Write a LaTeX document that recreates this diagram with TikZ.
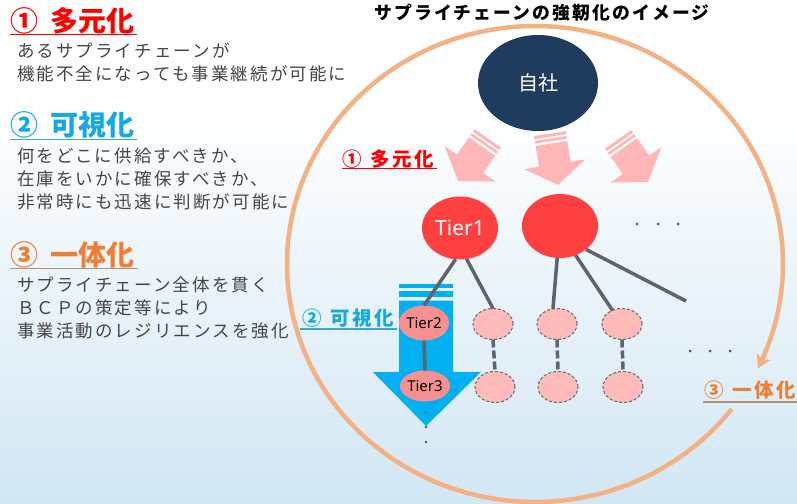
\documentclass[tikz,border=0pt]{standalone}
\usepackage{fontspec}
\setmainfont{Noto Sans CJK JP}
\newfontfamily\jp[LetterSpace=12]{Noto Sans CJK JP}
\newfontfamily\jph{Noto Sans CJK JP}
\newfontfamily\lat{Noto Sans}
\usetikzlibrary{shapes.geometric,arrows.meta}
\definecolor{bgblue}{HTML}{D2E7F4}
\definecolor{ringc}{HTML}{F4B183}
\definecolor{navy}{HTML}{1F3C5E}
\definecolor{tred}{HTML}{FF4040}
\definecolor{tsalmon}{HTML}{F79191}
\definecolor{tpink}{HTML}{FFBABA}
\definecolor{apink}{HTML}{FFB6B6}
\definecolor{ablue}{HTML}{00B0F0}
\definecolor{lgray}{HTML}{5F6370}
\definecolor{dgray}{HTML}{6F6F6F}
\definecolor{dotgray}{HTML}{505560}
\definecolor{txtgray}{HTML}{454545}
\definecolor{hred}{HTML}{FF0000}
\definecolor{hblue}{HTML}{14A8E4}
\definecolor{horange}{HTML}{EF7D32}
\definecolor{ulblue}{HTML}{3AA6DA}
\definecolor{ulbrown}{HTML}{B09078}
\begin{document}
\begin{tikzpicture}[x=1pt,y=-1pt,
  every node/.style={inner sep=0pt, outer sep=0pt},
  body/.style={anchor=west, text=txtgray, font=\jp\fontsize{17.5}{20}\selectfont},
  head/.style={anchor=west, font=\jph\bfseries\fontsize{28}{30}\selectfont},
  clabel/.style={anchor=west, font=\jp\bfseries\fontsize{19.5}{21}\selectfont},
  link/.style={draw=lgray, line width=3.5pt},
  dlink/.style={draw=lgray, line width=3.5pt, dash pattern=on 8pt off 3pt},
  ghost/.style={ellipse, fill=tpink, draw=dgray, line width=1.1pt, dash pattern=on 3pt off 2pt, minimum width=40pt, minimum height=31pt},
  pinkarrow/.pic={
    \fill[apink] (-16,-42) -- (16,-42) -- (16,-21) -- (31,-21) -- (0,0) -- (-31,-21) -- (-16,-21) -- cycle;
    \fill[apink] (-16,-44.5) rectangle (16,-47);
    \fill[apink] (-16,-49) rectangle (16,-52);
  }
]
\useasboundingbox (0,0) rectangle (797,503);
\fill[white] (0,0) rectangle (797,503);
\shade[top color=white, bottom color=bgblue] (0,105) rectangle (797,503);

% ring with arrow
\draw[ringc, line width=4.5pt, -{Stealth[length=13pt, width=15pt, inset=3pt]}]
  plot[domain=37.5:386, samples=300] ({535+248*cos(\x)},{264+238*sin(\x)});

% title
\node[font=\jp\bfseries\fontsize{17.8}{20}\selectfont] (title) at (542,13) {サプライチェーンの強靭化のイメージ};

% left text panel
\node[head, text=hred] (h1) at (10,21) {①\hspace{13pt}多元化};
\draw[hred, line width=1.8pt] (10,34.5) -- (137,34.5);
\node[body] (b11) at (17,51) {あるサプライチェーンが};
\node[body] (b12) at (17,74) {機能不全になっても事業継続が可能に};

\node[head, text=hblue] (h2) at (10,125) {②\hspace{13pt}可視化};
\draw[ulblue, line width=1.8pt] (10,139.5) -- (137,139.5);
\node[body] (b21) at (17,156) {何をどこに供給すべきか、};
\node[body] (b22) at (17,179) {在庫をいかに確保すべきか、};
\node[body] (b23) at (17,202) {非常時にも迅速に判断が可能に};

\node[head, text=horange] (h3) at (10,255) {③\hspace{13pt}一体化};
\draw[ulbrown, line width=1.8pt] (10,268.5) -- (138,268.5);
\node[body] (b31) at (17,285) {サプライチェーン全体を貫く};
\node[body] (b32) at (17,308) {ＢＣＰの策定等により};
\node[body] (b33) at (17,331) {事業活動のレジリエンスを強化};

% pink arrows
\pic[rotate=-35] at (458,181) {pinkarrow};
\pic[rotate=9] at (558,185) {pinkarrow};
\pic[rotate=35] at (648,182) {pinkarrow};

% blue arrow
\fill[ablue] (399,284) rectangle (453,287.5);
\fill[ablue] (399,291) rectangle (453,297);
\fill[ablue] (399,300.5) -- (453,300.5) -- (453,372) -- (481,372) -- (426,426) -- (373,372) -- (399,372) -- cycle;

% nodes
\node[ellipse, fill=navy, minimum width=120pt, minimum height=96pt, text=white, font=\jph\fontsize{20}{22}\selectfont] (self) at (538,83) {自社};
\node[ellipse, fill=tred, minimum width=76pt, minimum height=63pt, text=white, font=\lat\fontsize{21}{23}\selectfont] (t1) at (460,228) {Tier1};
\node[ellipse, fill=tred, minimum width=76pt, minimum height=64pt] (n2) at (560,226) {};
\node[ellipse, fill=tsalmon, minimum width=45pt, minimum height=35pt, font=\lat\fontsize{15}{17}\selectfont] (t2) at (424,323) {Tier2};
\node[ellipse, fill=tsalmon, minimum width=38pt, minimum height=31pt, font=\lat\fontsize{15}{17}\selectfont] (t3) at (425,386) {Tier3};
\node[ghost] (d1) at (493,324) {};
\node[ghost] (d2) at (557,324) {};
\node[ghost] (d3) at (622,324) {};
\node[ghost] (e1) at (495,387) {};
\node[ghost] (e2) at (558,387) {};
\node[ghost] (e3) at (623,387) {};
\coordinate (free) at (686,301);

% connectors
\draw[link] (t1.262) -- (t2.north);
\draw[link] (t1.282) -- (d1.north);
\draw[link] (n2.265) -- (d2.105);
\draw[link] (n2.298) -- (d3.125);
\draw[link] (n2.318) -- (free);
\draw[link] (t2.south) -- (t3.north);
\draw[dlink] (d1.south) -- (e1.north);
\draw[dlink] (d2.south) -- (e2.north);
\draw[dlink] (d3.south) -- (e3.north);

% dots
\foreach \px in {637,658,678} \fill[dotgray] (\px,224) circle[radius=1.5pt];
\foreach \px in {690,710,730} \fill[dotgray] (\px,351) circle[radius=1.5pt];
\foreach \py in {412,427,442} \fill[dotgray] (426,\py) circle[radius=1.3pt];

% circle labels
\node[clabel, text=hred] (l1) at (342,159) {①\hspace{9pt}多元化};
\draw[hred, line width=1.5pt] (342,168.5) -- (437,168.5);
\node[clabel, text=hblue] (l2) at (302,318) {②\hspace{9pt}可視化};
\draw[ulblue, line width=1.5pt] (300,329) -- (397,329);
\node[clabel, text=horange] (l3) at (704,390) {③\hspace{9pt}一体化};
\draw[ulbrown, line width=1.5pt] (703,402) -- (797,402);
\end{tikzpicture}
\end{document}
